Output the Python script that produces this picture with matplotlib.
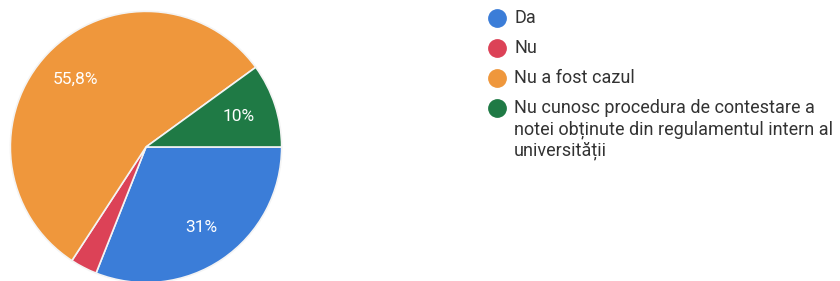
import matplotlib.pyplot as plt

plt.rcParams["font.family"] = ["Roboto", "DejaVu Sans"]

# Data
categories = [
    "Da",
    "Nu",
    "Nu a fost cazul",
    "Nu cunosc procedura de contestare a\nnotei obținute din regulamentul intern al\nuniversității",
]
shares = [31.0, 3.2, 55.8, 10.0]
pct_labels = ["31%", "", "55,8%", "10%"]
colors = ["#3b7dd8", "#dc4257", "#ef973c", "#1f7a45"]

W, H = 840, 281
fig = plt.figure(figsize=(W / 100, H / 100), dpi=100)

# pie axes: centre ~ (146, 147) px, radius ~137 px
cx, cy, r = 146, 147, 137
ax = fig.add_axes([(cx - r) / W, (H - cy - r) / H, 2 * r / W, 2 * r / H])

label_iter = iter(pct_labels)
ax.pie(
    shares,
    colors=colors,
    startangle=0,
    counterclock=False,
    radius=1,
    autopct=lambda p: next(label_iter),
    pctdistance=0.72,
    wedgeprops=dict(edgecolor="#f4f4f4", linewidth=1.2),
    textprops=dict(color="white", fontsize=12.5),
)
ax.set_xlim(-1.01, 1.01)
ax.set_ylim(-1.01, 1.01)
ax.set_aspect("equal")
ax.axis("off")

# legend drawn by hand so the marker sits on the first line of each label
lax = fig.add_axes([0, 0, 1, 1])
lax.set_xlim(0, W)
lax.set_ylim(H, 0)
lax.axis("off")
for i, (name, c) in enumerate(zip(categories, colors)):
    y = 18 + 30 * i
    lax.plot(497, y, marker="o", markersize=12.5, color=c, linestyle="none")
    lax.text(514, y, name.split("\n")[0], fontsize=13, color="#333333",
             va="center", ha="left")
    for j, extra in enumerate(name.split("\n")[1:], start=1):
        lax.text(514, y + 21.5 * j, extra, fontsize=13, color="#333333",
                 va="center", ha="left")

fig.savefig("out.png", dpi=100)
plt.close(fig)
